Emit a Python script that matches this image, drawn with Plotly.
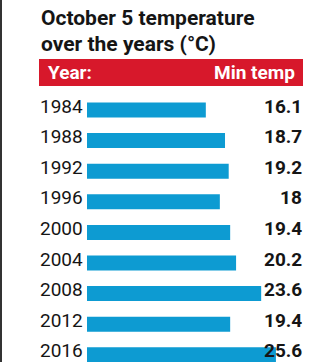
import plotly.graph_objects as go

years = ["1984", "1988", "1992", "1996", "2000", "2004", "2008", "2012", "2016"]
min_temp = [16.1, 18.7, 19.2, 18, 19.4, 20.2, 23.6, 19.4, 25.6]
value_labels = ["16.1", "18.7", "19.2", "18", "19.4", "20.2", "23.6", "19.4", "25.6"]
title_lines = ["October 5 temperature", "over the years (°C)"]
header_left = "Year:"
header_right = "Min temp"

W, H = 331, 362
BLUE = "#0d9bd2"
RED = "#d7182b"
INK = "#151515"
FONT = "Roboto"

def px_x(p):
    return p / W

def px_y(p):
    return 1 - p / H

# pixel geometry
x0_px = 87.0
scale = 7.38  # px per degree
x_range_max = (W - x0_px) / scale
row0 = 110.0
step = 30.6
y_top = -row0 / step
y_bot = (H - row0) / step

fig = go.Figure()
fig.add_trace(go.Bar(
    x=min_temp, y=list(range(len(years))), orientation="h",
    marker=dict(color=BLUE, line=dict(width=0)),
    width=0.49, hoverinfo="skip",
))

annotations = []
# title
annotations.append(dict(text="<b>" + title_lines[0] + "</b>", x=px_x(39), y=px_y(17.5),
                        xref="paper", yref="paper", xanchor="left", yanchor="middle",
                        showarrow=False, font=dict(family=FONT, size=21, color=INK)))
annotations.append(dict(text="<b>" + title_lines[1] + "</b>", x=px_x(39), y=px_y(43.5),
                        xref="paper", yref="paper", xanchor="left", yanchor="middle",
                        showarrow=False, font=dict(family=FONT, size=21, color=INK)))
# header
annotations.append(dict(text="<b>" + header_left + "</b>", x=px_x(46), y=px_y(72.5),
                        xref="paper", yref="paper", xanchor="left", yanchor="middle",
                        showarrow=False, font=dict(family=FONT, size=19, color="white")))
annotations.append(dict(text="<b>" + header_right + "</b>", x=px_x(297), y=px_y(72.5),
                        xref="paper", yref="paper", xanchor="right", yanchor="middle",
                        showarrow=False, font=dict(family=FONT, size=19, color="white")))
for i, (yr, lab) in enumerate(zip(years, value_labels)):
    annotations.append(dict(text=yr, x=px_x(38), y=i, xref="paper", yref="y",
                            xanchor="left", yanchor="middle", yshift=4,
                            showarrow=False, font=dict(family=FONT, size=19, color=INK)))
    annotations.append(dict(text="<b>" + lab + "</b>", x=px_x(304), y=i, xref="paper", yref="y",
                            xanchor="right", yanchor="middle", yshift=4,
                            showarrow=False, font=dict(family=FONT, size=19, color=INK)))

shapes = [
    dict(type="rect", xref="paper", yref="paper", x0=px_x(39), x1=px_x(303),
         y0=px_y(86), y1=px_y(59), fillcolor=RED, line=dict(width=0), layer="below"),
    dict(type="line", xref="paper", yref="paper", x0=px_x(1), x1=px_x(1),
         y0=0, y1=1, line=dict(color="#333333", width=2)),
]

fig.update_layout(
    width=W, height=H, margin=dict(l=0, r=0, t=0, b=0),
    paper_bgcolor="white", plot_bgcolor="rgba(0,0,0,0)",
    showlegend=False,
    xaxis=dict(domain=[x0_px / W, 1], range=[0, x_range_max], visible=False, fixedrange=True),
    yaxis=dict(domain=[0, 1], range=[y_bot, y_top], visible=False, fixedrange=True),
    annotations=annotations, shapes=shapes,
)

fig.write_html("out.html", config={"displayModeBar": False})
